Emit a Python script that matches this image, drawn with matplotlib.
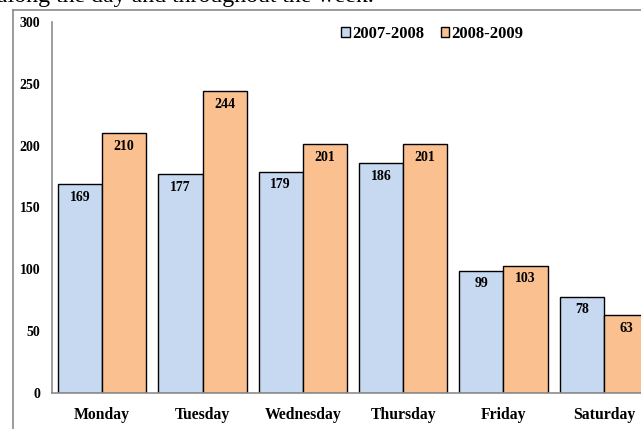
import numpy as np
import matplotlib.pyplot as plt
from matplotlib.lines import Line2D

# values
days = ['Monday', 'Tuesday', 'Wednesday', 'Thursday', 'Friday', 'Saturday']
y0708 = [169, 177, 179, 186, 99, 78]
y0809 = [210, 244, 201, 201, 103, 63]
yticks = [0, 50, 100, 150, 200, 250, 300]

plt.rcParams['font.family'] = ['Liberation Serif', 'DejaVu Serif']

W, H = 641, 429
fig = plt.figure(figsize=(W / 100, H / 100), dpi=100)

# piece of the document text above the chart (cut off by the screenshot)
fig.text(-3 / W, 1 - 2 / H, 'along the day and throughout the week.',
         fontsize=17.2, va='baseline', ha='left', color='k')

# chart frame (only left and top edges are visible)
fig.add_artist(Line2D([12.5 / W, 12.5 / W], [0, 1 - 10 / H], transform=fig.transFigure,
                      color='#8a8a8a', lw=1.2))
fig.add_artist(Line2D([12.5 / W, 1.0], [1 - 10 / H, 1 - 10 / H], transform=fig.transFigure,
                      color='#8a8a8a', lw=1.2))

# axes run past the right edge of the picture
ax = fig.add_axes([52 / W, 36 / H, 602 / W, 371 / H])

x = np.arange(len(days))
w = 0.44
b1 = ax.bar(x - w / 2, y0708, w, color='#C6D9F1', edgecolor='black', linewidth=1.0, label='2007-2008')
b2 = ax.bar(x + w / 2, y0809, w, color='#FAC090', edgecolor='black', linewidth=1.0, label='2008-2009')

for bars, vals in [(b1, y0708), (b2, y0809)]:
    for bar, v in zip(bars, vals):
        ax.annotate(str(v), (bar.get_x() + bar.get_width() / 2, v), xytext=(0, -9.5),
                    textcoords='offset points', ha='center', va='center',
                    fontsize=10, fontweight='bold')

ax.set_xlim(-0.5, 5.5)
ax.set_ylim(0, 300)
ax.set_yticks(yticks)
ax.set_xticks(x)
ax.set_xticklabels(days, fontsize=11.3, fontweight='bold')
for t in ax.get_yticklabels():
    t.set_fontsize(10)
    t.set_fontweight('bold')
ax.tick_params(axis='y', length=0, pad=8.5)
ax.tick_params(axis='x', length=0, pad=10)

for s in ['top', 'right']:
    ax.spines[s].set_visible(False)
for s in ['left', 'bottom']:
    ax.spines[s].set_color('#8c8c8c')
    ax.spines[s].set_linewidth(1.2)

ax.legend(loc='upper left', bbox_to_anchor=(333 / W, 1 - 17.5 / H), bbox_transform=fig.transFigure,
          ncol=2, frameon=False, prop={'size': 12, 'weight': 'bold'},
          handlelength=0.5, handleheight=0.5, handletextpad=0.15, columnspacing=1.0, borderpad=0)

fig.savefig('out.png', dpi=100)
